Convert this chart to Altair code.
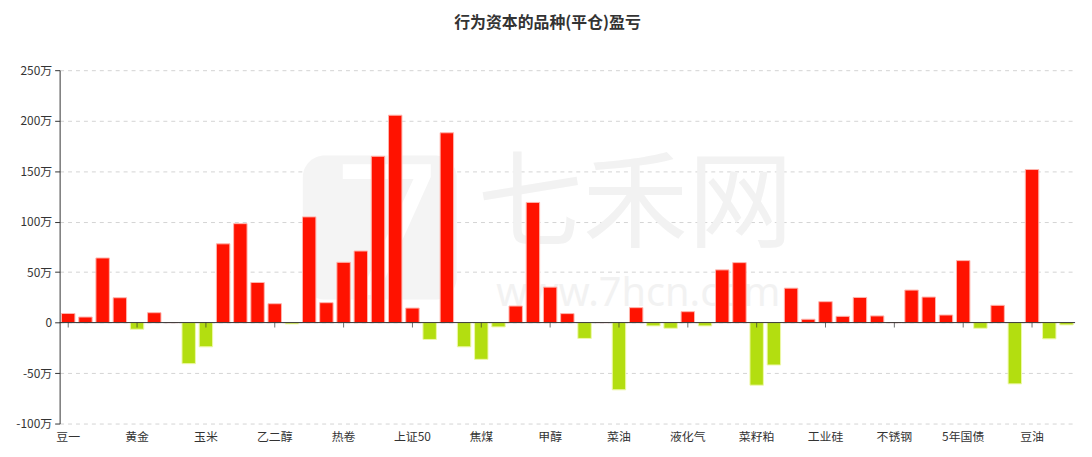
import altair as alt
import pandas as pd

categories = [
    "豆一", "豆二", "豆粕", "棕榈油", "黄金", "白银", "沪铜", "沪铝",
    "玉米", "玉米淀粉", "鸡蛋", "生猪", "乙二醇", "苯乙烯", "聚丙烯", "塑料",
    "热卷", "螺纹钢", "铁矿石", "沪深300", "上证50", "中证500", "焦炭", "锰硅",
    "焦煤", "硅铁", "PTA", "纯碱", "甲醇", "玻璃", "尿素", "棉花",
    "菜油", "白糖", "苹果", "红枣", "液化气", "原油", "燃料油", "沥青",
    "菜籽粕", "花生", "橡胶", "纸浆", "工业硅", "碳酸锂", "沪锌", "沪镍",
    "不锈钢", "沪锡", "沪铅", "2年国债", "5年国债", "10年国债", "30年国债", "低硫燃料油",
    "豆油", "短纤", "PVC",
]
pnl = [
    9, 5.5, 64, 24.6, -6.6, 9.8, 0, -40.7,
    -24, 78, 98, 39.7, 18.7, -1.3, 104.7, 19.7,
    59.7, 70.9, 164.7, 205.4, 14.4, -16.7, 188, -24,
    -36.4, -4.3, 16.4, 119, 35.1, 8.9, -15.7, 0,
    -66.6, 14.8, -3.3, -5.6, 10.8, -3.3, 52.2, 59.4,
    -62, -42, 34.1, 3.3, 20.7, 6.2, 24.9, 6.6,
    0, 32.2, 25.3, 7.5, 61.4, -5.6, 17.1, -60.7,
    151.6, -16.1, -2.3,
]
y_ticks = [-100, -50, 0, 50, 100, 150, 200, 250]
shown_labels = categories[::4]
title_text = "行为资本的品种(平仓)盈亏"
watermark_cn = "七禾网"
watermark_url = "www.7hcn.com"
logo_glyph = "7"

RED = "#ff1200"
GREEN = "#b3de10"
FONT = "Noto Sans CJK SC"

df = pd.DataFrame({"品种": categories, "盈亏": pnl})

x_scale = alt.Scale(domain=categories, paddingInner=0.22, paddingOuter=0.11)
y_scale = alt.Scale(domain=[-100, 250], nice=False, zero=False)

x_enc = alt.X(
    "品种:N",
    scale=x_scale,
    axis=alt.Axis(
        values=shown_labels, title=None, labelAngle=0, domain=False, ticks=False,
        labelFontSize=12, labelColor="#333", labelPadding=8, grid=False, labelFont=FONT,
    ),
)
y_enc = alt.Y(
    "盈亏:Q",
    scale=y_scale,
    axis=alt.Axis(
        values=y_ticks, title=None,
        labelExpr="datum.value == 0 ? '0' : datum.value + '万'",
        domainColor="#333", tickColor="#333", tickSize=5,
        gridDash=[4, 4], gridColor="#d4d4d4", labelFontSize=12, labelColor="#333",
        labelPadding=3, labelFont=FONT,
    ),
)

wm_df = pd.DataFrame({"t": [watermark_cn]})
logo = alt.Chart(wm_df).mark_rect(color="#f4f4f4", cornerRadius=22).encode(
    x=alt.value(245), x2=alt.value(400), y=alt.value(86), y2=alt.value(231)
)
logo7 = alt.Chart(wm_df).mark_text(
    text=logo_glyph, font="Noto Sans", fontSize=185, color="#ffffff",
    baseline="alphabetic", align="center",
).encode(x=alt.value(330), y=alt.value(226))
wm1 = alt.Chart(wm_df).mark_text(
    text=watermark_cn, font=FONT, fontSize=106, color="#f2f2f2",
    baseline="middle", align="center",
).encode(x=alt.value(580), y=alt.value(138))
wm2 = alt.Chart(wm_df).mark_text(
    text=watermark_url, font="Noto Sans", fontSize=40, color="#f2f2f2",
    baseline="middle", align="center",
).encode(x=alt.value(583), y=alt.value(226))

bars = alt.Chart(df).mark_bar(strokeWidth=1).encode(
    x=x_enc,
    y=y_enc,
    color=alt.condition(alt.datum["盈亏"] >= 0, alt.value(RED), alt.value(GREEN)),
    stroke=alt.condition(alt.datum["盈亏"] >= 0, alt.value("#ffb4ac"), alt.value("#eef8a8")),
    tooltip=["品种", "盈亏"],
)

zero_line = alt.Chart(pd.DataFrame({"z": [0]})).mark_rule(color="#333", strokeWidth=1).encode(
    y=alt.Y("z:Q", scale=y_scale)
)

ticks = alt.Chart(df).transform_filter(
    alt.FieldOneOfPredicate(field="品种", oneOf=shown_labels)
).mark_tick(orient="vertical", size=5, thickness=1, color="#333", yOffset=2.5).encode(
    x=alt.X("品种:N", scale=x_scale),
    y=alt.datum(0),
)

chart = alt.layer(logo, logo7, wm1, wm2, bars, zero_line, ticks).properties(
    width=1023,
    height=356,
    autosize=alt.AutoSizeParams(type="none"),
    padding={"left": 52, "top": 61, "right": 9, "bottom": 24},
    title=alt.TitleParams(
        title_text, fontSize=16, fontWeight="bold", color="#333", font=FONT,
        anchor="middle", frame="group", dx=-20, offset=33,
    ),
).configure_view(stroke=None)

chart.save("out.html", embed_options={"renderer": "svg", "actions": False})
